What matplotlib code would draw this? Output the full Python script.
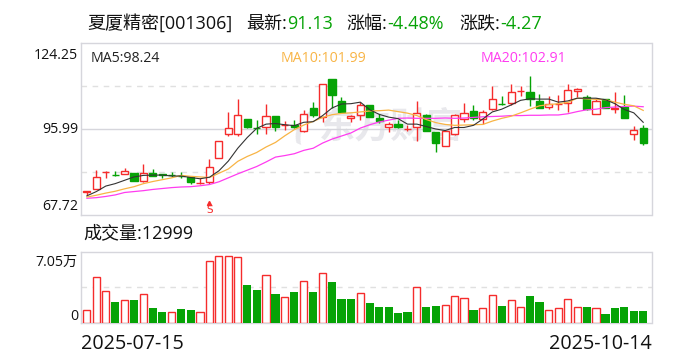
import matplotlib
matplotlib.use("Agg")
from matplotlib import pyplot as plt
import numpy as np

opens = [75.1, 76.1, 81.7, 80.8, 81.0, 81.4, 79.0, 81.4, 81.0, 80.9,
         80.6, 80.3, 78.1, 78.5, 86.3, 94.2, 94.4, 99.2, 96.3, 96.4,
         100.3, 97.1, 97.3, 95.1, 102.9, 99.8, 112.4, 105.1, 99.4, 100.5,
         103.8, 99.6, 96.5, 97.6, 95.9, 96.7, 100.6, 95.0, 90.3, 94.2,
         99.2, 101.9, 99.2, 102.4, 104.2, 104.4, 108.3, 108.1, 105.1, 103.0,
         104.1, 104.3, 108.2, 106.4, 100.8, 105.6, 102.3, 103.0, 94.2, 96.3]
highs = [75.5, 82.5, 82.0, 82.0, 83.2, 81.4, 84.5, 82.7, 81.1, 81.7,
         81.7, 80.5, 79.7, 86.1, 91.9, 101.4, 105.8, 99.2, 98.9, 104.1,
         100.3, 98.6, 98.9, 102.2, 104.9, 110.7, 112.4, 106.4, 100.5, 104.6,
         103.8, 100.7, 98.1, 98.7, 97.3, 105.2, 100.8, 95.0, 95.3, 100.8,
         104.4, 103.9, 102.1, 110.1, 106.8, 110.8, 110.0, 113.4, 107.5, 106.8,
         107.0, 110.8, 109.4, 107.2, 106.1, 105.8, 108.1, 107.2, 97.0, 97.3]
lows = [74.4, 76.1, 79.7, 80.6, 81.0, 79.0, 78.4, 80.5, 80.0, 80.3,
        79.7, 78.0, 77.9, 77.9, 86.3, 93.5, 93.7, 96.2, 94.3, 94.3,
        95.1, 95.7, 96.2, 94.8, 99.7, 98.1, 102.8, 101.3, 98.3, 98.9,
        99.7, 97.8, 95.0, 96.2, 95.1, 92.0, 95.3, 88.4, 90.3, 94.1,
        98.1, 98.9, 97.6, 102.2, 103.9, 103.7, 106.8, 103.5, 102.7, 102.5,
        102.2, 101.6, 106.4, 102.2, 100.7, 102.9, 101.2, 99.4, 92.4, 90.7]
closes = [75.5, 80.1, 81.9, 80.7, 82.1, 79.0, 81.4, 80.5, 80.8, 80.8,
          80.5, 78.4, 78.2, 83.4, 91.9, 96.2, 100.5, 96.7, 96.1, 100.0,
          96.6, 97.3, 96.4, 100.8, 100.6, 110.7, 107.2, 101.6, 100.1, 103.8,
          99.7, 98.6, 97.5, 96.4, 96.0, 101.1, 95.4, 91.2, 95.3, 100.5,
          101.1, 99.6, 101.5, 105.7, 104.0, 108.0, 108.4, 105.7, 102.9, 104.1,
          104.2, 108.7, 109.0, 102.6, 105.1, 102.9, 102.9, 99.4, 95.5, 91.4]

ma5 = [74.0, 75.4, 77.2, 78.0, 79.1, 80.2, 80.7, 80.8, 80.8, 80.5,
       80.5, 80.0, 79.6, 80.1, 82.2, 85.4, 89.6, 93.1, 96.1, 97.5,
       97.7, 97.3, 97.0, 98.1, 98.3, 100.3, 102.8, 104.1, 104.2, 104.7,
       102.2, 100.7, 99.8, 99.3, 97.5, 97.5, 96.7, 95.9, 95.4, 96.4,
       96.4, 97.1, 99.2, 101.5, 102.4, 103.8, 105.3, 105.8, 105.7, 105.7,
       104.7, 105.1, 106.0, 106.0, 106.0, 105.5, 104.2, 102.3, 101.2, 98.1]
ma10 = [73.6, 74.2, 74.9, 75.5, 76.3, 77.0, 78.0, 78.7, 79.3, 79.9,
        80.7, 80.4, 80.2, 80.0, 81.4, 82.8, 85.3, 86.9, 88.2, 90.0,
        91.5, 93.7, 95.7, 97.2, 98.4, 99.7, 100.6, 101.0, 101.2, 101.5,
        101.8, 101.9, 102.1, 101.6, 101.1, 100.3, 99.0, 98.0, 97.4, 97.1,
        97.2, 97.3, 97.4, 98.5, 99.4, 100.1, 101.2, 102.4, 103.5, 103.9,
        104.2, 104.6, 106.0, 105.8, 105.6, 105.5, 104.7, 104.0, 103.5, 102.0]
ma20 = [73.2, 73.4, 73.8, 74.3, 75.1, 75.4, 75.7, 76.1, 76.4, 76.7,
        76.9, 77.0, 77.3, 77.7, 78.6, 79.9, 81.2, 82.4, 83.6, 85.1,
        86.7, 87.2, 87.8, 88.9, 89.6, 91.3, 92.6, 93.6, 94.6, 96.2,
        97.3, 98.2, 98.8, 99.4, 99.5, 99.4, 99.4, 99.4, 99.5, 99.4,
        99.5, 99.7, 99.9, 100.0, 100.1, 100.3, 100.3, 100.4, 100.4, 100.5,
        100.5, 100.9, 101.6, 102.2, 102.4, 102.9, 103.1, 103.3, 103.4, 103.2]

# volume in units of 10k
volume = [1.31, 4.82, 3.33, 2.20, 2.37, 2.41, 3.01, 1.56, 1.13, 1.10,
          1.45, 1.35, 1.10, 6.52, 7.05, 7.05, 6.94, 4.00, 3.47, 5.03,
          3.05, 2.69, 3.26, 4.39, 3.26, 5.24, 4.32, 2.52, 2.52, 3.12,
          2.09, 1.67, 1.67, 1.03, 1.13, 3.76, 1.67, 1.77, 1.84, 2.80,
          2.59, 1.35, 1.52, 2.91, 1.77, 2.37, 1.63, 2.83, 2.20, 1.31,
          1.52, 2.48, 1.63, 1.67, 1.52, 0.92, 1.56, 1.67, 1.24, 1.30]
vol_up = "rrrgrgrggrggrrrrrggrgrgrgrgggrgggggrggrrrgrrgrrggrrrrgrggggg"

RED = "#f52c2c"
GREEN = "#06a306"
BORDER = "#d6d6dc"
MARK = "#e8e8ec"
W, H = 688, 360
plt.rcParams["font.family"] = ["Open Sans", "Noto Sans CJK SC"]


def axes_px(fig, left, top, right, bottom):
    return fig.add_axes([left / W, 1 - bottom / H, (right - left) / W, (bottom - top) / H])


def label(fig, x, y, s, color="#111111", size=13, ha="left"):
    # x, y are pixels, y is the baseline
    fig.text(x / W, 1 - y / H, s, color=color, fontsize=size, ha=ha, va="baseline")


def frame(ax):
    ax.set_xticks([])
    ax.set_yticks([])
    for s in ax.spines.values():
        s.set_color(BORDER)
        s.set_linewidth(1.0)
    ax.set_xlim(-0.68, 59.88)


fig = plt.figure(figsize=(W / 100, H / 100), dpi=100)
x = np.arange(len(closes))

ax = axes_px(fig, 80.5, 42.5, 651.5, 215)
frame(ax)
ax.set_ylim(67.72, 124.25)
ax.axhline(95.985, color=BORDER, lw=1, zorder=1)
for g in (110.12, 81.85):
    ax.axhline(g, color="#e0e0e0", lw=1, dashes=(4, 4), zorder=1)

# watermark, under the candles
ax.text(391 / W, 1 - 128 / H, "东方财富", color=MARK, fontsize=26, fontweight="bold",
        ha="center", va="center", zorder=0.5, transform=fig.transFigure)
ax.text(302 / W, 1 - 128 / H, "(", color=MARK, fontsize=30, fontweight="bold", rotation=-25,
        ha="center", va="center", zorder=0.5, transform=fig.transFigure)

for i in x:
    up = closes[i] >= opens[i]
    c = RED if up else GREEN
    lo, hi = min(opens[i], closes[i]), max(opens[i], closes[i])
    ax.vlines(i, lows[i], highs[i], color=c, lw=1.0, zorder=2)
    ax.bar(i, hi - lo, bottom=lo, width=0.76, facecolor="white" if up else c, edgecolor=c,
           lw=1.0, zorder=3)

ax.plot(x, ma20, color="#ff3cf0", lw=0.9, zorder=4)
ax.plot(x, ma10, color="#f8b445", lw=0.9, zorder=5)
ax.plot(x, ma5, color="#333333", lw=0.8, zorder=6)

# sell flag
ax.plot([13], [71.5], marker="^", color=RED, ms=3, zorder=4)
ax.text(13, 69.4, "S", color=RED, fontsize=7.5, ha="center", va="center", family="DejaVu Sans")

vax = axes_px(fig, 80.5, 251.7, 651.5, 323.3)
frame(vax)
vax.set_ylim(-0.06, 7.55)
vax.axhline(3.76, color="#e0e0e0", lw=1, dashes=(4, 4), zorder=1)
for i in x:
    if vol_up[i] == "r":
        vax.bar(i, volume[i], width=0.76, facecolor="white", edgecolor=RED, lw=1.0, zorder=3)
    else:
        vax.bar(i, volume[i], width=0.86, color=GREEN, zorder=3)

# header
label(fig, 87, 29, "夏厦精密[001306]")
label(fig, 246, 29, "最新:")
label(fig, 287, 29, "91.13", GREEN)
label(fig, 346, 29, "涨幅:")
label(fig, 387, 29, "-4.48%", GREEN)
label(fig, 459, 29, "涨跌:")
label(fig, 500, 29, "-4.27", GREEN)

label(fig, 91, 62, "MA5:98.24", "#222222", 10.2)
label(fig, 281, 62, "MA10:101.99", "#f8b445", 10.2)
label(fig, 481, 62, "MA20:102.91", "#ff3cf0", 10.2)

label(fig, 78, 59, "124.25", "#111111", 10.2, "right")
label(fig, 78, 133, "95.99", "#111111", 10.2, "right")
label(fig, 78, 210, "67.72", "#111111", 10.2, "right")
label(fig, 83, 238, "成交量:12999")
label(fig, 78, 266, "7.05万", "#111111", 10.2, "right")
label(fig, 78, 320, "0", "#111111", 10.2, "right")
label(fig, 81, 349, "2025-07-15", "#111111", 14.2)
label(fig, 652, 349, "2025-10-14", "#111111", 14.2, "right")

fig.savefig("out.png", dpi=100)
